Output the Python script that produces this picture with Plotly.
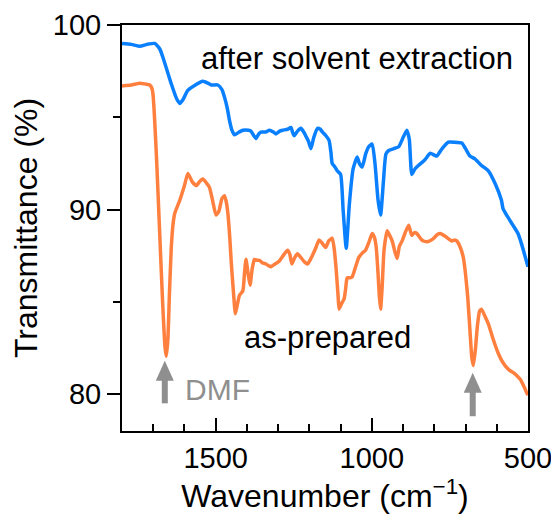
import plotly.graph_objects as go

# ---- data ----
wn_after = [1800, 1770, 1743, 1720, 1695, 1679, 1668, 1642, 1625, 1615, 1605, 1590, 1570, 1541, 1525, 1514,
            1493, 1480, 1472, 1463, 1456, 1448, 1440, 1425, 1413, 1395, 1387, 1378, 1371, 1362, 1355, 1340,
            1328, 1315, 1307, 1295, 1286, 1270, 1259, 1254, 1249, 1238, 1227, 1218, 1212, 1203, 1195, 1186,
            1174, 1165, 1158, 1147, 1137, 1131, 1127, 1118, 1111, 1100, 1092, 1082, 1072, 1060, 1047, 1040,
            1031, 1020, 1010, 999, 990, 980, 972, 963, 955, 946, 930, 914, 900, 888, 880, 872, 862, 850,
            830, 813, 800, 792, 775, 755, 735, 712, 700, 686, 670, 650, 627, 605, 585, 580, 565, 550, 532,
            520, 505, 500]
t_after = [99.0, 98.95, 98.85, 98.95, 99.0, 98.7, 98.2, 96.8, 96.0, 95.75, 95.95, 96.45, 96.7, 96.95, 96.85, 96.75,
           96.75, 96.5, 96.1, 95.5, 94.85, 94.3, 94.05, 94.2, 94.3, 94.3, 94.25, 94.0, 93.85, 94.1, 94.2, 94.2,
           94.3, 94.2, 94.1, 94.25, 94.3, 94.35, 94.45, 94.2, 94.0, 94.25, 94.4, 94.2, 94.0, 93.7, 93.3, 93.9,
           94.4, 94.35, 94.2, 94.0, 93.75, 93.1, 92.5, 92.3, 92.1, 91.9, 90.0, 87.9, 90.3, 92.2, 92.85, 92.5,
           92.3, 93.0, 93.4, 93.55, 92.5, 90.5, 89.7, 91.5, 93.0, 93.2, 93.3, 93.4, 93.9, 94.3, 93.8, 91.9, 92.2, 92.4,
           92.7, 93.05, 92.95, 92.9, 93.3, 93.65, 93.65, 93.6, 93.3, 92.9, 92.75, 92.4, 92.1, 91.4, 90.5, 90.05, 89.6, 89.2, 88.7,
           88.1, 87.2, 86.9]

wn_prep = [1800, 1770, 1743, 1725, 1711, 1703, 1700, 1690, 1680, 1670, 1662, 1658, 1653, 1648, 1642, 1636,
           1631, 1622, 1615, 1600, 1589, 1575, 1562, 1550, 1541, 1530, 1520, 1510, 1499, 1490, 1480, 1472,
           1466, 1461, 1455, 1450, 1443, 1437, 1430, 1424, 1413, 1408, 1403, 1396, 1390, 1383, 1376, 1368,
           1360, 1350, 1339, 1330, 1323, 1310, 1297, 1280, 1270, 1263, 1256, 1247, 1238, 1225, 1215, 1206,
           1195, 1180, 1169, 1160, 1148, 1138, 1127, 1120, 1114, 1108, 1105, 1097, 1089, 1084, 1079, 1070,
           1063, 1052, 1042, 1030, 1020, 1010, 999, 992, 986, 980, 976, 972, 967, 961, 951, 943, 935, 926,
           919, 912, 903, 892, 882, 876, 872, 864, 856, 840, 824, 805, 790, 781, 765, 744, 735, 728, 718,
           707, 700, 693, 686, 680, 675, 668, 662, 655, 649, 640, 627, 612, 595, 580, 560, 542, 525, 510,
           505, 500]
t_prep = [96.7, 96.75, 96.85, 96.8, 96.75, 96.5, 96.1, 93.0, 89.0, 85.0, 82.5, 82.05, 83.0, 85.5, 88.0, 89.3,
          89.8, 90.2, 90.5, 91.3, 91.95, 91.5, 91.3, 91.55, 91.65, 91.45, 91.2, 90.5, 89.7, 89.9, 90.6, 90.75,
          90.4, 89.8, 88.5, 87.1, 85.5, 84.35, 84.9, 85.35, 85.6, 86.5, 87.3, 86.5, 85.9, 86.8, 87.3, 87.25,
          87.25, 87.1, 87.05, 86.95, 86.9, 87.05, 87.2, 87.6, 87.8, 87.6, 87.05, 87.4, 87.6, 87.35, 87.15, 87.05,
          87.35, 87.9, 88.35, 88.2, 87.95, 88.3, 88.45, 87.8, 86.7, 85.3, 84.6, 84.9, 85.15, 85.7, 86.3, 86.3,
          86.35, 86.9, 87.4, 87.65, 87.8, 88.2, 88.7, 88.5, 87.95, 86.5, 85.3, 84.6, 85.8, 87.8, 88.85, 88.6, 88.3, 87.7,
          87.35, 88.0, 88.3, 88.8, 89.15, 88.8, 88.6, 88.75, 88.7, 88.35, 88.25, 88.4, 88.65, 88.7, 88.55, 88.3, 88.35, 88.3, 88.0,
          87.4, 86.5, 85.25, 83.5, 82.0, 81.55, 82.5, 83.7, 84.5, 84.6, 84.3, 83.8, 83.0, 82.2, 81.7, 81.3, 81.1, 80.8, 80.3,
          80.1, 79.95]

x_ticks = [1500, 1000, 500]
y_ticks = [80, 90, 100]

# DMF arrows: x position, tip y and tail y
arrow_x = [1663, 677]
arrow_tip_y = [81.8, 81.16]
arrow_tail_y = [79.5, 78.8]

BLUE = "#0A80FF"
ORANGE = "#FF7F3F"
GRAY = "#8F8F8F"
FONT = "Liberation Sans, Arial, sans-serif"

X_RANGE = [1800, 500]
Y_RANGE = [78, 100]
PLOT_W, PLOT_H = 406, 406  # plot area size in px
px_per_x = PLOT_W / abs(X_RANGE[0] - X_RANGE[1])
px_per_y = PLOT_H / abs(Y_RANGE[1] - Y_RANGE[0])
HEAD_HALF_W = 9 / px_per_x   # arrow head half width (data units)
HEAD_LEN = 20 / px_per_y     # arrow head length (data units)

fig = go.Figure()
fig.add_trace(go.Scatter(x=wn_after, y=t_after, mode="lines",
                         line=dict(color=BLUE, width=3.5, shape="spline", smoothing=0.5),
                         showlegend=False, cliponaxis=False))
fig.add_trace(go.Scatter(x=wn_prep, y=t_prep, mode="lines",
                         line=dict(color=ORANGE, width=3.5, shape="spline", smoothing=0.5),
                         showlegend=False, cliponaxis=False))

shapes = []
for ax_, tip, tail in zip(arrow_x, arrow_tip_y, arrow_tail_y):
    base = tip - HEAD_LEN
    shapes.append(dict(type="line", xref="x", yref="y", x0=ax_, x1=ax_, y0=tail, y1=base + 0.05,
                       line=dict(color=GRAY, width=6)))
    shapes.append(dict(type="path", xref="x", yref="y",
                       path=f"M {ax_ - HEAD_HALF_W},{base} L {ax_ + HEAD_HALF_W},{base} L {ax_},{tip} Z",
                       fillcolor=GRAY, line=dict(width=0)))

annotations = [
    dict(x=541, y=98.2, text="after solvent extraction", showarrow=False, xanchor="right", yanchor="middle",
         font=dict(size=31, color="black", family=FONT)),
    dict(x=1143, y=83.04, text="as-prepared", showarrow=False, xanchor="center", yanchor="middle",
         font=dict(size=31, color="black", family=FONT)),
    dict(x=1606, y=80.24, text="DMF", showarrow=False, xanchor="left", yanchor="middle",
         font=dict(size=30, color=GRAY, family=FONT)),
]

# page body has an 8px default margin, so the figure is 8px smaller and margins shifted
fig.update_layout(
    width=551, height=516,
    margin=dict(l=114, r=31, t=17, b=93, autoexpand=False),
    plot_bgcolor="white", paper_bgcolor="white",
    font=dict(family=FONT, size=29, color="black"),
    annotations=annotations,
    shapes=shapes,
    xaxis=dict(range=X_RANGE, tickvals=x_ticks, ticktext=[str(v) for v in x_ticks],
               ticks="inside", ticklen=13, tickwidth=2, tickcolor="black", automargin=False,
               ticklabeloverflow="allow",
               minor=dict(dtick=100, ticks="inside", ticklen=7, tickwidth=2, tickcolor="black"),
               showline=True, linecolor="black", linewidth=2, mirror=True, showgrid=False, zeroline=False,
               tickfont=dict(size=29),
               title=dict(text="Wavenumber (cm<sup>\u22121</sup>)", font=dict(size=32), standoff=8)),
    yaxis=dict(range=Y_RANGE, tickvals=y_ticks, ticktext=[str(v) for v in y_ticks],
               ticks="outside", ticklen=13, tickwidth=2, tickcolor="black", automargin=False,
               minor=dict(dtick=5, ticks="outside", ticklen=7, tickwidth=2, tickcolor="black"),
               showline=True, linecolor="black", linewidth=2, mirror=True, showgrid=False, zeroline=False,
               tickfont=dict(size=29),
               title=dict(text="Transmittance (%)", font=dict(size=32), standoff=10)),
)

fig.write_html("out.html")
